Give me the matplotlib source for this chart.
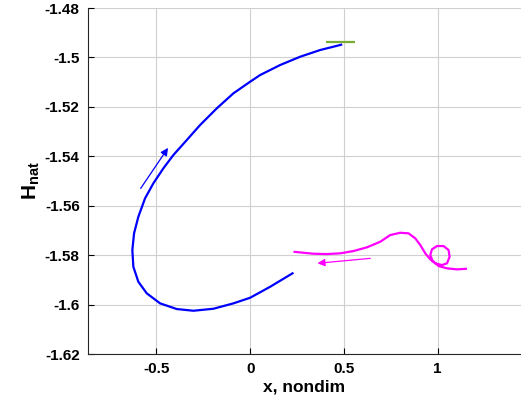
import numpy as np
import matplotlib
matplotlib.use("Agg")
import matplotlib.pyplot as plt

# ---------------------------------------------------------
# DATA
# ---------------------------------------------------------
blue_x = [0.491, 0.4805, 0.3737, 0.2670, 0.1602, 0.0534, 0.0, -0.0892,
          -0.1778, -0.2670, -0.3380, -0.4095, -0.4629, -0.5163, -0.5606,
          -0.5964, -0.6193, -0.6284, -0.6231, -0.5964, -0.5515, -0.4805,
          -0.3914, -0.3027, -0.1959, -0.0892, 0.0, 0.1068, 0.2312]
blue_h = [-1.4947, -1.49497, -1.49700, -1.49971, -1.50307, -1.50712,
          -1.50983, -1.51452, -1.52059, -1.52735, -1.53342, -1.53949,
          -1.54487, -1.55094, -1.55701, -1.56446, -1.57118, -1.57794,
          -1.58469, -1.59077, -1.59546, -1.59951, -1.60181, -1.60250,
          -1.60169, -1.59951, -1.59724, -1.59279, -1.58712]

pink_x = [0.2312, 0.2846, 0.3380, 0.4095, 0.4805, 0.5515, 0.6231, 0.6941,
          0.7475, 0.8009, 0.8452, 0.8809, 0.9076, 0.9343, 0.9610, 0.9877,
          1.0235, 1.0502, 1.0641, 1.0587, 1.0320, 0.9968, 0.9701, 0.9610,
          0.9733, 1.0053, 1.0502, 1.1036, 1.1570]
pink_h = [-1.57862, -1.57903, -1.57943, -1.57956, -1.57927, -1.57834,
          -1.57684, -1.57458, -1.57187, -1.57094, -1.57118, -1.57320,
          -1.57591, -1.57927, -1.58170, -1.58332, -1.58401, -1.58332,
          -1.58065, -1.57794, -1.57632, -1.57632, -1.57765, -1.57996,
          -1.58227, -1.58441, -1.58534, -1.58575, -1.58550]

green_x = [0.406, 0.561]
green_h = [-1.4938, -1.4938]

# arrows: (tail, head)
blue_arrow = [(-0.584, -1.5530), (-0.438, -1.5366)]
pink_arrow = [(0.641, -1.5813), (0.359, -1.5833)]

x_ticks = [-0.5, 0, 0.5, 1]
x_labels = ['-0.5', '0', '0.5', '1']
y_ticks = [-1.62, -1.6, -1.58, -1.56, -1.54, -1.52, -1.5, -1.48]
y_labels = ['-1.62', '-1.6', '-1.58', '-1.56', '-1.54', '-1.52', '-1.5', '-1.48']

# ---------------------------------------------------------
# PLOT
# ---------------------------------------------------------
plt.rcParams['font.family'] = ['Liberation Sans', 'DejaVu Sans']
plt.rcParams['mathtext.fontset'] = 'custom'
plt.rcParams['mathtext.bf'] = 'Liberation Sans:bold'
plt.rcParams['mathtext.rm'] = 'Liberation Sans:bold'

fig = plt.figure(figsize=(5.21, 4.09), dpi=100)
ax = fig.add_axes([88 / 521, 55 / 409, 433 / 521, 346 / 409])

ax.plot(blue_x, blue_h, color='#0000ff', lw=1.6, solid_capstyle='butt')
ax.plot(pink_x, pink_h, color='#ff00ff', lw=1.6, solid_capstyle='butt')
ax.plot(green_x, green_h, color='#77ac30', lw=1.6, solid_capstyle='butt')

for (tail, head), c in [(blue_arrow, '#0000ff'), (pink_arrow, '#ff00ff')]:
    ax.annotate('', xy=head, xytext=tail,
                arrowprops=dict(arrowstyle='-|>', color=c, lw=0.9,
                                mutation_scale=11, shrinkA=0, shrinkB=0))

ax.set_xlim(-0.865, 1.445)
ax.set_ylim(-1.62, -1.48)
ax.set_xticks(x_ticks)
ax.set_xticklabels(x_labels)
ax.set_yticks(y_ticks)
ax.set_yticklabels(y_labels)
ax.grid(True, color='#d0d0d0', lw=0.8)
ax.set_axisbelow(True)
ax.tick_params(direction='in', length=4, width=0.8, labelsize=11, pad=6)
for lab in ax.get_xticklabels() + ax.get_yticklabels():
    lab.set_fontweight('bold')
ax.spines['top'].set_visible(False)
ax.spines['right'].set_visible(False)
for s in ['left', 'bottom']:
    ax.spines[s].set_color('#262626')
    ax.spines[s].set_linewidth(0.8)

ax.set_xlabel('x, nondim', fontsize=12.5, fontweight='bold', labelpad=2)
ax.set_ylabel(r'$\mathbf{H_{nat}}$', fontsize=15, labelpad=2)

plt.savefig("out.png", dpi=100)
